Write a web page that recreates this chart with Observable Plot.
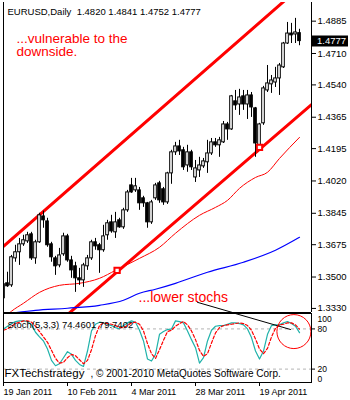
<!DOCTYPE html>
<html><head><meta charset="utf-8">
<script src="https://cdn.jsdelivr.net/npm/d3@7"></script>
<script src="https://cdn.jsdelivr.net/npm/@observablehq/plot@0.6"></script>
<style>
body{margin:0;background:#fff;}
#chart{width:350px;height:400px;overflow:hidden;background:#fff;}
#chart svg{display:block;}
</style></head><body><div id="chart"></div>
<script>
// ---- data ----
const symbol = "EURUSD,Daily";
const open  = [1.3385,1.3466,1.3455,1.3601,1.3634,1.3677,1.3693,1.3731,1.3601,1.3688,1.3828,1.3801,1.3677,1.3601,1.3563,1.3623,1.3720,1.3590,1.3558,1.3493,1.3482,1.3558,1.3601,1.3688,1.3672,1.3645,1.3726,1.3796,1.3742,1.3807,1.3769,1.3861,1.3996,1.3969,1.3969,1.3926,1.3899,1.3796,1.3926,1.4007,1.3975,1.3904,1.4061,1.4175,1.4207,1.4186,1.4104,1.4175,1.4039,1.4077,1.4099,1.4121,1.4169,1.4229,1.4213,1.4229,1.4326,1.4299,1.4451,1.4434,1.4478,1.4434,1.4483,1.4413,1.4213,1.4332,1.4510,1.4543,1.4553,1.4575,1.4635,1.4764,1.4818,1.4813,1.4820];
const high  = [1.3493,1.3526,1.3617,1.3672,1.3709,1.3726,1.3742,1.3742,1.3699,1.3845,1.3856,1.3818,1.3688,1.3612,1.3655,1.3737,1.3731,1.3612,1.3580,1.3547,1.3574,1.3617,1.3699,1.3709,1.3682,1.3780,1.3807,1.3834,1.3850,1.3818,1.3872,1.3969,1.4034,1.4034,1.3985,1.3937,1.3904,1.3915,1.4007,1.4018,1.3985,1.4067,1.4186,1.4229,1.4240,1.4202,1.4213,1.4186,1.4131,1.4148,1.4142,1.4240,1.4250,1.4250,1.4256,1.4342,1.4337,1.4483,1.4510,1.4516,1.4510,1.4510,1.4499,1.4418,1.4332,1.4532,1.4645,1.4591,1.4635,1.4656,1.4770,1.4878,1.4873,1.4900,1.4841];
const low   = [1.3336,1.3444,1.3444,1.3580,1.3563,1.3666,1.3682,1.3590,1.3569,1.3682,1.3764,1.3661,1.3580,1.3509,1.3550,1.3612,1.3580,1.3493,1.3417,1.3455,1.3444,1.3536,1.3590,1.3645,1.3520,1.3634,1.3699,1.3737,1.3709,1.3764,1.3758,1.3850,1.3953,1.3958,1.3861,1.3877,1.3764,1.3785,1.3915,1.3899,1.3888,1.3893,1.4002,1.4158,1.4158,1.4077,1.4067,1.4077,1.4012,1.4039,1.4088,1.4061,1.4158,1.4202,1.4148,1.4223,1.4240,1.4294,1.4402,1.4375,1.4402,1.4353,1.4364,1.4148,1.4196,1.4321,1.4499,1.4494,1.4526,1.4483,1.4629,1.4759,1.4764,1.4764,1.4752];
const close = [1.3461,1.3450,1.3607,1.3634,1.3677,1.3699,1.3726,1.3601,1.3688,1.3834,1.3807,1.3672,1.3607,1.3558,1.3617,1.3720,1.3590,1.3536,1.3493,1.3482,1.3563,1.3601,1.3688,1.3666,1.3645,1.3720,1.3791,1.3747,1.3796,1.3769,1.3861,1.3958,1.3958,1.3991,1.3899,1.3899,1.3796,1.3904,1.3996,1.3915,1.3904,1.4061,1.4175,1.4207,1.4180,1.4094,1.4175,1.4094,1.4088,1.4104,1.4126,1.4169,1.4229,1.4213,1.4240,1.4326,1.4299,1.4478,1.4429,1.4472,1.4434,1.4483,1.4418,1.4223,1.4326,1.4521,1.4548,1.4564,1.4575,1.4645,1.4764,1.4818,1.4808,1.4824,1.4777];

// moving averages (bar index, price)
const maRedIdx  = [0,2,5,9,14,19,24,28,34,39,43,49,53,56,59,63,66,69,74];
const maRed     = [1.3277,1.3315,1.3358,1.3417,1.3455,1.3466,1.3493,1.3536,1.3601,1.3661,1.3737,1.3834,1.3877,1.3915,1.3980,1.4039,1.4067,1.4142,1.4256];
const maBlueIdx = [0,8,16,24,30,34,38,43,51,60,68,74];
const maBlue    = [1.3298,1.3320,1.3331,1.3347,1.3374,1.3412,1.3434,1.3466,1.3526,1.3580,1.3645,1.3715];

// channel trend lines (bar index, price)
const upperChannelIdx = [0, 77];
const upperChannel    = [1.3666, 1.5123];
const lowerChannelIdx = [10, 77];
const lowerChannel    = [1.3185, 1.4433];
const touchIdx   = [28.4, 64];
const touchPrice = [1.3536, 1.4202];

// stochastic (5,3,3)
const stochK = [80,84,88,91,92,92,91,86,75,68,62,50,33,25,28,37,46,42,33,27,24,47,77,87,90,89,87,85,82,80,85,89,92,90,78,62,35,32,42,72,76,79,80,92,91,89,77,64,52,29,37,62,78,84,85,85,87,89,89,88,86,80,67,47,35,47,72,85,86,86,89,91,88,84,74.4601];
const stochD = [78,80,84,88,90,92,92,90,84,76,68,60,48,36,29,30,37,42,40,34,28,33,49,70,85,89,88,87,85,82,82,85,89,90,87,77,58,43,36,49,63,76,78,84,88,91,86,77,64,48,39,43,59,74,82,85,86,87,88,89,88,85,78,65,50,43,51,68,81,86,87,89,89,86,79.7402];
const stochLevels = [80, 20];

// axes
const priceTicks = [1.4885,1.4710,1.4540,1.4365,1.4195,1.4020,1.3845,1.3675,1.3500,1.3330];
const dateIdx    = [0,16,32,48,64];
const dateLabels = ["19 Jan 2011","10 Feb 2011","4 Mar 2011","28 Mar 2011","19 Apr 2011"];

// annotations
const noteTop1   = "...vulnerable to the";
const noteTop2   = "downside.";
const noteBottom = "...lower stochs";
const pointerIdx   = [48.5, 71.75];
const pointerPrice = [1.3363, 1.3217];
const pointerStoch = [119.4, 79.1];
const circleIdx = 72.6, circleStoch = 76;

// ---- build ----
const n = close.length;
const candles = d3.range(n).map(i => ({i, o: open[i], h: high[i], l: low[i], c: close[i]}));
const toPts = (idx, vals) => idx.map((x, k) => ({x, y: vals[k]}));
const xDomain = [0, 77];
const yDomain = [1.3308, 1.4986];
const font = "'Liberation Sans', Arial, sans-serif";
const RED = "#ff0000";

const main = Plot.plot({
  width: 350, height: 313,
  marginTop: 2, marginBottom: 1, marginLeft: 3, marginRight: 39,
  style: {fontFamily: font, fontSize: "9.5px", background: "white", overflow: "visible"},
  x: {domain: xDomain, axis: null},
  y: {domain: yDomain, axis: null},
  marks: [
    Plot.line(toPts(upperChannelIdx, upperChannel), {x: "x", y: "y", stroke: RED, strokeWidth: 3, clip: true}),
    Plot.line(toPts(lowerChannelIdx, lowerChannel), {x: "x", y: "y", stroke: RED, strokeWidth: 3, clip: true}),
    Plot.line(toPts(maRedIdx, maRed), {x: "x", y: "y", stroke: RED, strokeWidth: 1, curve: "monotone-x", clip: true}),
    Plot.line(toPts(maBlueIdx, maBlue), {x: "x", y: "y", stroke: "#0000ff", strokeWidth: 1.2, curve: "monotone-x", clip: true}),
    Plot.ruleX(candles, {x: "i", y1: "l", y2: "h", stroke: "black", strokeWidth: 1, clip: true}),
    Plot.rect(candles, {x1: d => d.i - 0.33, x2: d => d.i + 0.33, y1: "o", y2: "c",
      fill: d => d.c >= d.o ? "white" : "black", stroke: "black", strokeWidth: 1, clip: true}),
    Plot.dot(toPts(touchIdx, touchPrice), {x: "x", y: "y", symbol: "square", r: 3, stroke: RED, strokeWidth: 2, fill: "white"}),
    Plot.line(toPts(pointerIdx, pointerPrice), {x: "x", y: "y", stroke: "black", strokeWidth: 1, clip: true}),
    Plot.ruleX([xDomain[0], xDomain[1]], {stroke: "black"}),
    Plot.ruleY([yDomain[0]], {stroke: "black"}),
    Plot.axisY(priceTicks, {anchor: "right", tickSize: 4, tickPadding: 2, tickFormat: d => d.toFixed(4), fontSize: 9.5, fill: "black"}),
    (index, s, v, dim) => {
      const g = d3.create("svg:g");
      const y = s.y(close[n - 1]);
      const x0 = dim.width - dim.marginRight;
      g.append("rect").attr("x", x0 + 1).attr("y", Math.round(y) - 5.5).attr("width", 36).attr("height", 11).attr("fill", "black");
      g.append("text").attr("x", x0 + 6).attr("y", y).attr("dy", "0.32em").attr("fill", "white")
        .attr("text-anchor", "start").attr("font-size", 9.5).attr("font-family", font).text(close[n - 1].toFixed(4));
      return g.node();
    },
    Plot.text([`${symbol}  ${open[n-1].toFixed(4)} ${high[n-1].toFixed(4)} ${low[n-1].toFixed(4)} ${close[n-1].toFixed(4)}`],
      {frameAnchor: "top-left", dx: 4, dy: 6, fontSize: 9.5, fill: "black"}),
    Plot.text([noteTop1], {frameAnchor: "top-left", dx: 13, dy: 30.5, fontSize: 13.5, fill: RED}),
    Plot.text([noteTop2], {frameAnchor: "top-left", dx: 13, dy: 44, fontSize: 13.5, fill: RED}),
    Plot.text([noteBottom], {frameAnchor: "top-left", dx: 135, dy: 290, fontSize: 14, fill: RED})
  ]
});

const stoch = Plot.plot({
  width: 350, height: 87,
  marginTop: 0, marginBottom: 18, marginLeft: 3, marginRight: 39,
  style: {fontFamily: font, fontSize: "9.5px", background: "white", overflow: "visible"},
  x: {domain: xDomain, axis: null},
  y: {domain: [0, 103], axis: null},
  marks: [
    Plot.ruleY(stochLevels, {stroke: "#b4b4b4", strokeDasharray: "3,3"}),
    Plot.line(stochK.map((v, i) => ({i, v})), {x: "i", y: "v", stroke: "#20b2aa", strokeWidth: 1.2, clip: true}),
    Plot.line(stochD.map((v, i) => ({i, v})), {x: "i", y: "v", stroke: RED, strokeWidth: 1.2, strokeDasharray: "3,2", clip: true}),
    Plot.line(toPts(pointerIdx, pointerStoch), {x: "x", y: "y", stroke: "black", strokeWidth: 1, clip: true}),
    Plot.dot([{x: circleIdx, y: circleStoch}], {x: "x", y: "y", r: 17, stroke: RED, strokeWidth: 1, fill: "none"}),
    Plot.frame({stroke: "black"}),
    Plot.axisY(stochLevels, {anchor: "right", tickSize: 3, tickPadding: 3, fontSize: 8.5, fill: "black"}),
    Plot.text([100], {y: d => d, frameAnchor: "right", dx: 6, textAnchor: "start", dy: 4, fontSize: 8.5, fill: "black"}),
    Plot.text([0], {y: d => d, frameAnchor: "right", dx: 6, textAnchor: "start", dy: -3, fontSize: 8.5, fill: "black"}),
    Plot.axisX(dateIdx, {anchor: "bottom", tickSize: 4, tickPadding: 2, textAnchor: "start",
      tickFormat: d => dateLabels[dateIdx.indexOf(d)], fontSize: 9, fill: "black"}),
    Plot.text([`Stoch(5,3,3) ${stochK[n-1].toFixed(4)} ${stochD[n-1].toFixed(4)}`],
      {frameAnchor: "top-left", dx: 4, dy: 7.5, fontSize: 9.5, fill: "black"}),
    Plot.text(["FXTechstrategy"], {frameAnchor: "top-left", dx: 1, dy: 55.5, fontSize: 11.5, fill: "black"}),
    Plot.text([", \u00a9 2001-2010 MetaQuotes Software Corp."], {frameAnchor: "top-left", dx: 87, dy: 56, fontSize: 10, fill: "black"})
  ]
});

document.getElementById("chart").append(main, stoch);
</script></body></html>
